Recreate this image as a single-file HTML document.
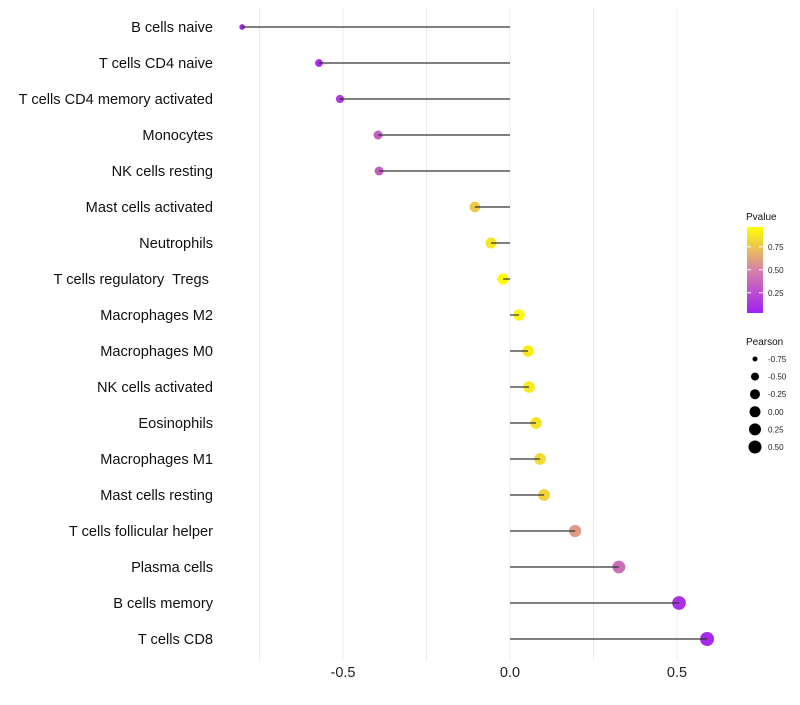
<!DOCTYPE html>
<html><head><meta charset="utf-8"><style>
body{margin:0;background:#fff;font-family:"Liberation Sans",sans-serif}
text{white-space:pre}
</style></head><body>
<svg id="c" width="800" height="700" xmlns="http://www.w3.org/2000/svg">
<defs><linearGradient id="g" x1="0" y1="1" x2="0" y2="0">
<stop offset="0" stop-color="#a020f0"/><stop offset="0.5" stop-color="#d682aa"/><stop offset="1" stop-color="#ffff00"/></linearGradient></defs>
</svg>
<script>
const categories=["B cells naive","T cells CD4 naive","T cells CD4 memory activated","Monocytes","NK cells resting","Mast cells activated","Neutrophils","T cells regulatory  Tregs ","Macrophages M2","Macrophages M0","NK cells activated","Eosinophils","Macrophages M1","Mast cells resting","T cells follicular helper","Plasma cells","B cells memory","T cells CD8"];
const pearson=[-0.802,-0.572,-0.509,-0.395,-0.392,-0.105,-0.057,-0.021,0.027,0.054,0.057,0.078,0.09,0.102,0.195,0.326,0.506,0.59];
const pvalues=[0.02,0.06,0.12,0.32,0.32,0.78,0.9,0.98,0.97,0.92,0.92,0.88,0.85,0.82,0.6,0.4,0.08,0.05];
const xTicks=[-0.5,0,0.5];
const xTickLabels=["-0.5","0.0","0.5"];
const colorTicks=[0.25,0.5,0.75];
const sizeTicks=[-0.75,-0.5,-0.25,0,0.25,0.5];
const sizeTickLabels=["-0.75","-0.50","-0.25","0.00","0.25","0.50"];

const svg=document.getElementById('c');const NS="http://www.w3.org/2000/svg";
const xs=v=>510+v*334;
const ys=i=>27+i*36;
const rs=v=>Math.sqrt(Math.max(2.5,31.7+29.3*v));
function lerp(a,b,t){return a.map((x,i)=>Math.round(x+(b[i]-x)*t));}
function col(p){const A=[160,32,240],M=[214,130,170],B=[255,255,0];const c=p<0.5?lerp(A,M,p/0.5):lerp(M,B,(p-0.5)/0.5);return `rgb(${c})`;}
function mk(t,a,par){const e=document.createElementNS(NS,t);for(const k in a)e.setAttribute(k,a[k]);(par||svg).appendChild(e);return e;}
[-0.75,-0.5,-0.25,0,0.25,0.5].forEach(v=>{const l=mk('line',{x1:xs(v),x2:xs(v),y1:8,y2:660,stroke:'#ebebeb','stroke-width':1});

});
xTicks.forEach((v,i)=>{const t=mk('text',{x:xs(v),y:677,'text-anchor':'middle','font-size':14.5,fill:'#222'});t.textContent=xTickLabels[i];

});
categories.forEach((c,i)=>{
const t=mk('text',{x:213,y:ys(i)+5,'text-anchor':'end','font-size':14.6,fill:'#111'});t.textContent=c;


const d=mk('circle',{cx:xs(pearson[i]),cy:ys(i),r:rs(pearson[i]),fill:col(pvalues[i])});


const l=mk('line',{x1:xs(0),x2:xs(pearson[i]),y1:ys(i),y2:ys(i),stroke:'#333','stroke-width':1.2});


});
let t=mk('text',{x:746,y:220,'font-size':10,fill:'#111'});t.textContent='Pvalue';


const bar=mk('rect',{x:747,y:227,width:16,height:86,fill:'url(#g)'});


const cy=p=>313-(p-0.03)/0.25*23;
colorTicks.forEach(p=>{mk('line',{x1:747,x2:751,y1:cy(p),y2:cy(p),stroke:'#fff'});mk('line',{x1:759,x2:763,y1:cy(p),y2:cy(p),stroke:'#fff'});
const s=mk('text',{x:768,y:cy(p)+3,'font-size':8,fill:'#222'});s.textContent=p.toFixed(2);

});
t=mk('text',{x:746,y:345,'font-size':10,fill:'#111'});t.textContent='Pearson';


const legR=[2.5,4,5,5.5,6,6.5];
sizeTicks.forEach((v,i)=>{const y=359+i*17.6;
const c=mk('circle',{cx:755,cy:y,r:legR[i],fill:'#000'});


const s=mk('text',{x:768,y:y+3,'font-size':8,fill:'#222'});s.textContent=sizeTickLabels[i];

});
</script>
</body></html>
